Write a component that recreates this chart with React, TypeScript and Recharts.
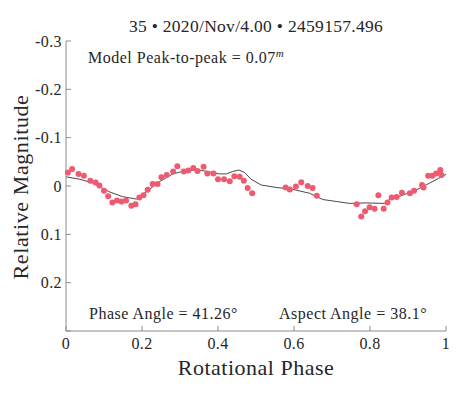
import { ComposedChart, Scatter, Line, XAxis, YAxis } from "recharts";

// observed lightcurve points: [rotational phase, relative magnitude]
const obsPhase = [
  0.005, 0.016, 0.033, 0.047, 0.064, 0.078, 0.088, 0.1, 0.111, 0.122, 0.134, 0.146, 0.158,
  0.172, 0.183, 0.193, 0.204, 0.215, 0.228, 0.241, 0.251, 0.265, 0.282, 0.293, 0.31, 0.322,
  0.335, 0.346, 0.362, 0.372, 0.388, 0.4, 0.416, 0.431, 0.443, 0.457, 0.468, 0.478, 0.49,
  0.578, 0.589, 0.605, 0.619, 0.636, 0.649, 0.66,
  0.765, 0.777, 0.787, 0.799, 0.812, 0.822, 0.836, 0.846, 0.857, 0.87, 0.884, 0.905, 0.916,
  0.937, 0.941, 0.953, 0.964, 0.974, 0.985, 0.988,
];
const obsMag = [
  -0.028, -0.035, -0.025, -0.021, -0.011, -0.007, -0.001, 0.01, 0.021, 0.034, 0.03, 0.032, 0.03,
  0.041, 0.038, 0.024, 0.019, 0.008, -0.004, -0.004, -0.018, -0.023, -0.03, -0.041, -0.03, -0.032,
  -0.037, -0.031, -0.04, -0.026, -0.026, -0.014, -0.014, -0.01, -0.02, -0.019, -0.011, 0.004, 0.015,
  0.003, 0.007, 0.001, -0.008, 0, 0.004, 0.02,
  0.038, 0.063, 0.052, 0.044, 0.047, 0.019, 0.047, 0.034, 0.024, 0.023, 0.014, 0.015, 0.01,
  -0.002, 0.003, -0.021, -0.021, -0.026, -0.033, -0.023,
];

// model curve
const modelPhase = [
  0, 0.036, 0.071, 0.114, 0.149, 0.185, 0.211, 0.246, 0.281, 0.316, 0.351, 0.378, 0.404, 0.422,
  0.439, 0.455, 0.47, 0.487, 0.514, 0.553, 0.597, 0.641, 0.676, 0.711, 0.746, 0.79, 0.838, 0.851,
  0.886, 0.922, 0.957, 1,
];
const modelMag = [
  -0.019, -0.014, -0.006, 0.012, 0.022, 0.027, 0.012, -0.009, -0.025, -0.032, -0.033, -0.029, -0.025, -0.025,
  -0.03, -0.033, -0.028, -0.014, -0.002, 0.003, 0.007, 0.015, 0.028, 0.032, 0.036, 0.035, 0.036, 0.028,
  0.019, 0.008, -0.006, -0.024,
];

const xTicks = [0, 0.2, 0.4, 0.6, 0.8, 1];
const yTicks = [-0.3, -0.2, -0.1, 0, 0.1, 0.2, 0.3];
const yTickLabels = ["-0.3", "-0.2", "-0.1", "0", "0.1", "0.2", ""];

const observed = obsPhase.map((p, i) => ({ phase: p, mag: obsMag[i] }));
const model = modelPhase.map((p, i) => ({ phase: p, mag: modelMag[i] }));

const FONT = '"Liberation Serif", "DejaVu Serif", serif';
const AXIS = "#8c8c8c";
const INK = "#262626";
const tickStyle = { fill: INK, fontSize: 16, fontFamily: FONT, letterSpacing: 0.4 };
const note = { position: "absolute" as const, fontSize: 16, lineHeight: "18px", letterSpacing: 0.5, whiteSpace: "nowrap" as const };

export default function App() {
  return (
    <div style={{ position: "absolute", left: 0, top: 0, width: 471, height: 397, background: "#fff", fontFamily: FONT, color: INK }}>
      <ComposedChart width={471} height={397} margin={{ top: 41, right: 25, bottom: 0, left: 0 }}>
        <XAxis
          xAxisId="b" dataKey="phase" type="number" domain={[0, 1]} ticks={xTicks}
          height={66} tickSize={-5} tickMargin={12}
          stroke={AXIS} tick={tickStyle}
          tickFormatter={(v: number) => String(v)}
        />
        <XAxis
          xAxisId="t" orientation="top" dataKey="phase" type="number" domain={[0, 1]} ticks={xTicks}
          height={0} tickSize={-5} stroke={AXIS} tick={false}
        />
        <YAxis
          yAxisId="l" dataKey="mag" type="number" domain={[-0.3, 0.3]} ticks={yTicks} reversed
          width={66} tickSize={-5} tickMargin={9} allowDataOverflow
          stroke={AXIS} tick={tickStyle}
          tickFormatter={(v: number) => yTickLabels[yTicks.indexOf(v)] ?? ""}
        />
        <YAxis
          yAxisId="r" orientation="right" dataKey="mag" type="number" domain={[-0.3, 0.3]} ticks={yTicks} reversed
          width={0} tickSize={-5} stroke={AXIS} tick={false} allowDataOverflow
        />
        <Line
          xAxisId="t" yAxisId="r" data={model} dataKey="mag" type="linear"
          stroke="#333" strokeWidth={0.9} dot={false} isAnimationActive={false}
        />
        <Scatter
          xAxisId="b" yAxisId="l" data={observed} dataKey="mag"
          fill="#ee5a6f" shape={(p: any) => <circle cx={p.cx} cy={p.cy} r={3} fill="#ee5a6f" />}
          isAnimationActive={false}
        />
      </ComposedChart>

      <div style={{ position: "absolute", left: 256, top: 26, transform: "translate(-50%, -50%)", fontSize: 17.5, letterSpacing: 0.3, whiteSpace: "nowrap" }}>
        35 • 2020/Nov/4.00 • 2459157.496
      </div>
      <div style={{ ...note, left: 88, top: 49 }}>
        Model Peak-to-peak = 0.07<sup style={{ fontSize: 11, fontStyle: "italic", verticalAlign: 6, lineHeight: 0 }}>m</sup>
      </div>
      <div style={{ ...note, left: 89, top: 305 }}>
        Phase Angle = 41.26°
      </div>
      <div style={{ ...note, left: 279, top: 305 }}>
        Aspect Angle = 38.1°
      </div>
      <div style={{ position: "absolute", left: 256, top: 368, transform: "translate(-50%, -50%)", fontSize: 22, letterSpacing: 0.5, whiteSpace: "nowrap" }}>
        Rotational Phase
      </div>
      <div style={{ position: "absolute", left: 21, top: 187, transform: "translate(-50%, -50%) rotate(-90deg)", fontSize: 22, letterSpacing: 0.6, whiteSpace: "nowrap" }}>
        Relative Magnitude
      </div>
    </div>
  );
}
